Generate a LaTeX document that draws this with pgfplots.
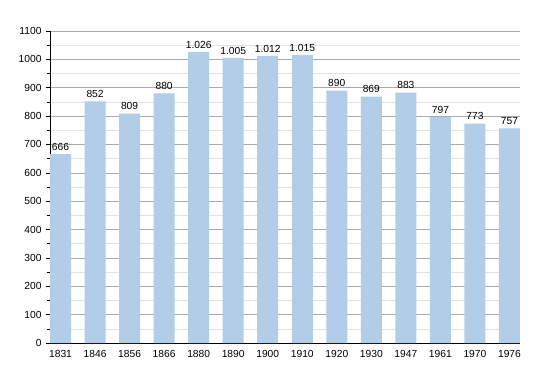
\documentclass[border=0pt]{standalone}
\usepackage{pgfplots}
\pgfplotsset{compat=1.18}
\usepackage{fontspec}
\setmainfont{Liberation Sans}
\definecolor{barblue}{RGB}{178,205,232}
\definecolor{majgrid}{RGB}{170,170,170}
\definecolor{mingrid}{RGB}{225,225,225}
\begin{document}
\begin{tikzpicture}[x=1bp,y=1bp]
\path[use as bounding box] (-50bp,-30bp) rectangle (500bp,343bp);
\begin{axis}[
  at={(0bp,0bp)}, anchor=south west,
  scale only axis,
  width=470bp, height=312bp,
  xmin=-0.305, xmax=13.305,
  ymin=0, ymax=1100,
  axis x line=bottom, axis y line=left,
  axis line style={-, black, line width=0.8pt},
  xtick=data,
  xticklabels={1831,1846,1856,1866,1880,1890,1900,1910,1920,1930,1947,1961,1970,1976},
  major x tick style={draw=none},
  ytick={0,100,...,1100},
  minor ytick={50,150,...,1050},
  ymajorgrids, yminorgrids,
  major grid style={majgrid, line width=0.6pt},
  minor grid style={mingrid, line width=0.6pt},
  tick align=outside,
  major tick length=4bp, minor tick length=3bp,
  y tick style={black, line width=0.6pt},
  tick label style={font=\fontsize{10.3}{12}\selectfont},
  /pgf/number format/assume math mode=true,
  yticklabel style={/pgf/number format/1000 sep={}},
  xticklabel style={yshift=0bp},
  yticklabel style={xshift=-1bp},
  ybar, bar width=21bp,
  axis on top=false,
  clip=false,
  nodes near coords={\pgfmathprintnumber[1000 sep={.}]{\pgfplotspointmeta}},
  every node near coord/.append style={font=\fontsize{10.3}{12}\selectfont, black, inner sep=1.5bp, yshift=2bp, /pgf/number format/assume math mode=true},
]
\addplot[fill=barblue, draw=none] coordinates {
(0,666) (1,852) (2,809) (3,880) (4,1026) (5,1005) (6,1012) (7,1015)
(8,890) (9,869) (10,883) (11,797) (12,773) (13,757)};
\end{axis}
\end{tikzpicture}
\end{document}
